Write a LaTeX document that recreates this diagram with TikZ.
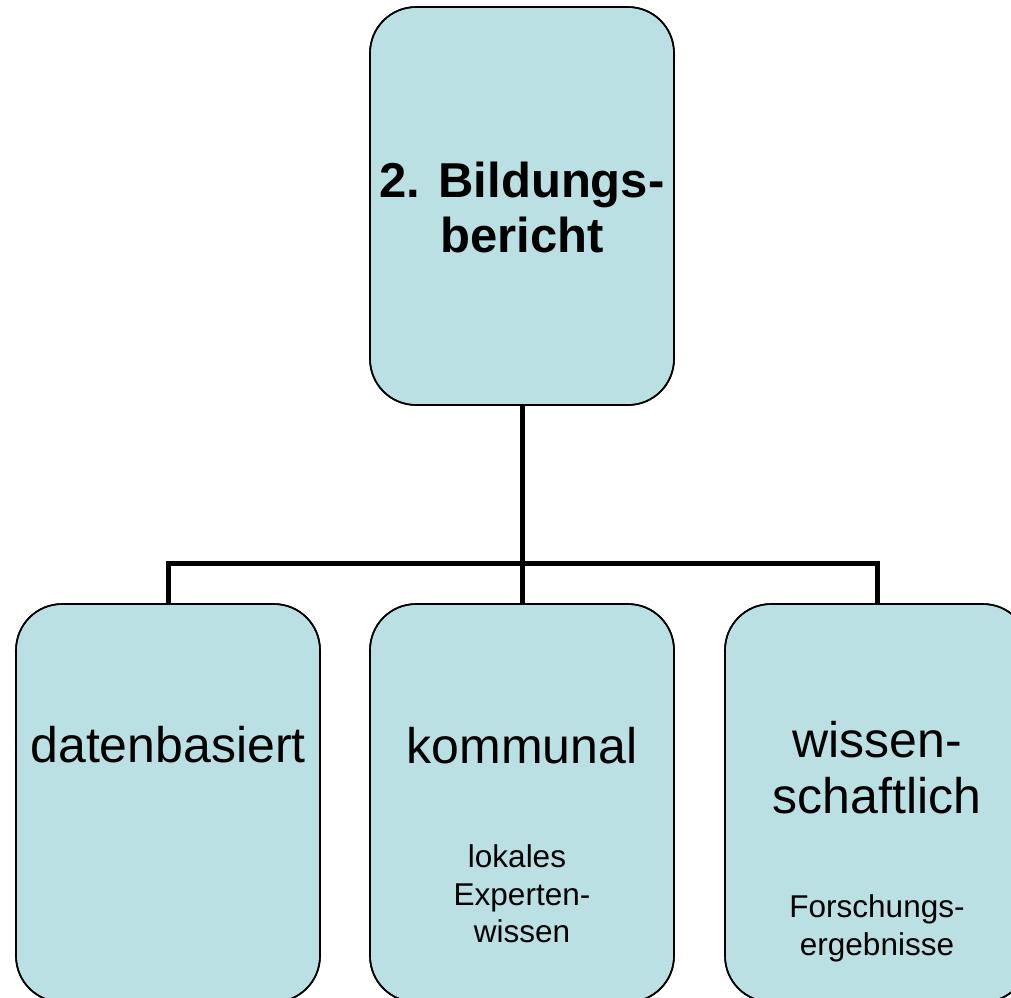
\documentclass[tikz,border=0pt]{standalone}
\usepackage{fontspec}
\setmainfont{Liberation Sans}
\definecolor{boxfill}{HTML}{BBE0E3}
\begin{document}
\begin{tikzpicture}[x=1pt,y=-1pt,
  boxstyle/.style={draw=black,line width=1.6pt,fill=boxfill,rounded corners=46pt,
    minimum width=304pt,minimum height=398pt,inner sep=0pt},
  conn/.style={draw=black,line width=5pt},
  big/.style={anchor=base,inner sep=0pt,font=\fontsize{50}{56}\selectfont},
  bigbold/.style={anchor=base,inner sep=0pt,font=\fontsize{49}{55}\selectfont\bfseries},
  small/.style={anchor=base,inner sep=0pt,font=\fontsize{31.5}{38}\selectfont}]
\useasboundingbox (0,0) rectangle (1011,997);
\clip (0,0) rectangle (1011,997);
\fill[white] (0,0) rectangle (1011,997);
% boxes
\node[boxstyle] (top) at (522,206) {};
\node[boxstyle] (left) at (168,803) {};
\node[boxstyle] (mid) at (522,803) {};
\node[boxstyle] (right) at (877,803) {};
% connectors
\coordinate (bus) at (522,563);
\draw[conn] (top.south) -- (bus) -- (mid.north);
\draw[conn] (left.north) |- (bus) -| (right.north);
% redraw borders over connector ends
\node[boxstyle,fill=none] at (top) {};
\node[boxstyle,fill=none] at (left) {};
\node[boxstyle,fill=none] at (mid) {};
\node[boxstyle,fill=none] at (right) {};
% texts
\node[bigbold] (t1) at (522,197) {2. Bildungs-};
\node[bigbold] (t2) at (522,252) {bericht};
\node[big] (l1) at (168,762) {datenbasiert};
\node[big] (m1) at (522,763) {kommunal};
\node[small] (m2) at (517,867) {lokales};
\node[small] (m3) at (522,905) {Experten-};
\node[small] (m4) at (522,942) {wissen};
\node[big] (r1) at (877,757) {wissen-};
\node[big] (r2) at (877,813) {schaftlich};
\node[small] (r3) at (877,917) {Forschungs-};
\node[small] (r4) at (877,955) {ergebnisse};
\end{tikzpicture}
\end{document}
